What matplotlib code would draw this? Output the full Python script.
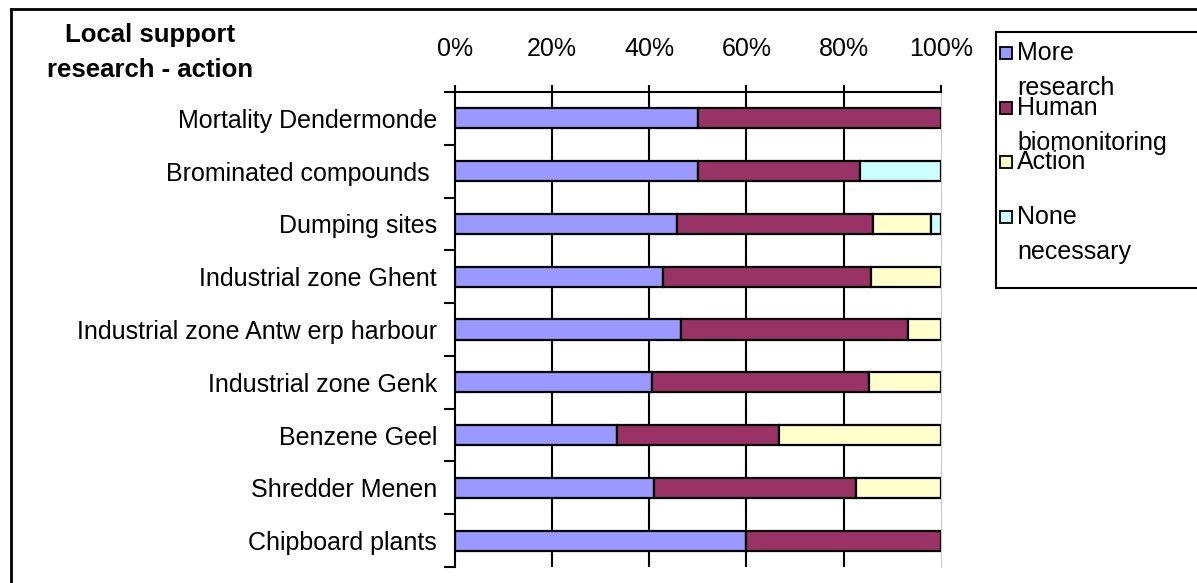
import matplotlib
matplotlib.use('Agg')
import matplotlib.pyplot as plt
import numpy as np
from matplotlib.patches import Rectangle
from matplotlib.lines import Line2D

plt.rcParams['font.family'] = ['Liberation Sans', 'DejaVu Sans']

# data (percent of respondents)
categories = ['Mortality Dendermonde', 'Brominated compounds ', 'Dumping sites',
              'Industrial zone Ghent', 'Industrial zone Antw erp harbour',
              'Industrial zone Genk', 'Benzene Geel', 'Shredder Menen', 'Chipboard plants']
more_research = [50, 50, 45.7, 42.9, 46.6, 40.5, 33.3, 40.9, 60]
human_biomonitoring = [50, 33.3, 40.4, 42.7, 46.7, 44.7, 33.4, 41.7, 40]
action = [0, 0, 11.8, 14.4, 6.7, 14.8, 33.3, 17.4, 0]
none_necessary = [0, 16.7, 2.1, 0, 0, 0, 0, 0, 0]

series_names = ['More\nresearch', 'Human\nbiomonitoring', 'Action', 'None\nnecessary']
series_colors = ['#9999FF', '#993366', '#FFFFCC', '#CCFFFF']
xticks = [0, 20, 40, 60, 80, 100]

W, H = 1197, 583
fs = 18

fig = plt.figure(figsize=(W / 100, H / 100), dpi=100)
ax = fig.add_axes([455 / W, 1 - 567 / H, (940.7 - 455) / W, (567 - 92) / H])

y = np.arange(len(categories))
left = np.zeros(len(categories))
for vals, color in zip([more_research, human_biomonitoring, action, none_necessary], series_colors):
    v = np.array(vals, dtype=float)
    m = v > 0
    ax.barh(y[m], v[m], left=left[m], height=0.38, color=color,
            edgecolor='black', linewidth=1.6, zorder=3)
    left += v

ax.set_xlim(0, 100)
ax.set_ylim(len(categories) - 0.5, -0.5)

for gx in xticks[1:-1]:
    ax.axvline(gx, color='black', linewidth=1.5, zorder=1)

ax.xaxis.tick_top()
ax.set_xticks(xticks, [f'{t}%' for t in xticks])
ax.tick_params(axis='x', length=5, width=1.5, pad=17, labelsize=fs)
ax.set_yticks(y, categories)
ax.set_yticks(np.arange(-0.5, len(categories), 1), minor=True)
ax.tick_params(axis='y', which='major', length=0, pad=13, labelsize=fs)
ax.tick_params(axis='y', which='minor', length=8, width=1.5)

ax.spines['bottom'].set_visible(False)
ax.spines['right'].set_color('#c8c8c8')
ax.spines['top'].set_linewidth(1.5)
ax.spines['left'].set_linewidth(1.5)

# title block
fig.text(150 / W, 1 - 35 / H, 'Local support', ha='center', va='center',
         fontsize=fs + 0.5, fontweight='bold')
fig.text(150 / W, 1 - 70 / H, 'research - action', ha='center', va='center',
         fontsize=fs + 0.5, fontweight='bold')

# legend
fig.patches.append(Rectangle((996 / W, 1 - 288 / H), (1200 - 996) / W, (288 - 32) / H,
                             transform=fig.transFigure, facecolor='white',
                             edgecolor='black', linewidth=1.5))
for i, (name, color) in enumerate(zip(series_names, series_colors)):
    yc = 53 + i * 54.7
    fig.patches.append(Rectangle((1000 / W, 1 - (yc + 6) / H), 12 / W, 12 / H,
                                 transform=fig.transFigure, facecolor=color,
                                 edgecolor='black', linewidth=1.3))
    for j, line in enumerate(name.split('\n')):
        fig.text(1017 / W, 1 - (yc + j * 35) / H, line, ha='left', va='center',
                 fontsize=fs)

# outer frame
fig.lines.append(Line2D([11 / W, 11 / W], [0, 1 - 9 / H], transform=fig.transFigure,
                        color='black', linewidth=2))
fig.lines.append(Line2D([11 / W, 1], [1 - 9 / H, 1 - 9 / H], transform=fig.transFigure,
                        color='black', linewidth=2))

fig.savefig('out.png', dpi=100)
